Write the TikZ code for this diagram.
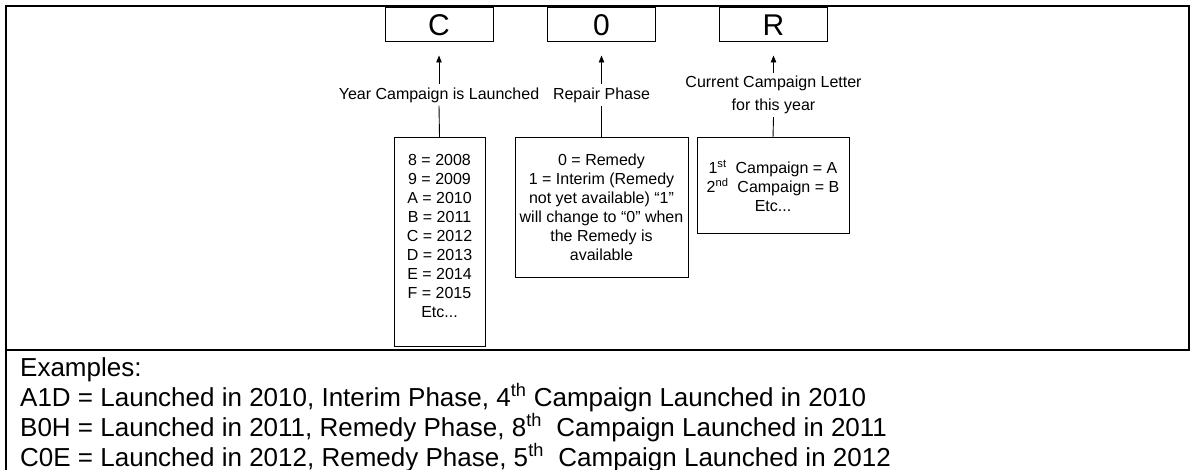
\documentclass[tikz,border=0pt]{standalone}
\usepackage{fontspec}
\setmainfont{Liberation Sans}
\usetikzlibrary{arrows.meta}
\begin{document}
\begin{tikzpicture}[x=1pt,y=-1pt,
  frame/.style={line width=2.5pt,line cap=rect},
  side/.style={line width=2pt},
  letterbox/.style={draw,line width=1pt,minimum width=108pt,minimum height=34pt,inner sep=0pt,font=\fontsize{30}{30}\selectfont},
  lbl/.style={inner sep=3pt,align=center,font=\fontsize{16}{23}\selectfont},
  infobox/.style={draw,line width=1pt,inner sep=0pt,align=center,font=\fontsize{16}{19}\selectfont},
  plain/.style={inner sep=0pt,align=center,font=\fontsize{16}{19}\selectfont},
  conn/.style={line width=0.9pt},
  arr/.style={conn,-{Triangle[length=7pt,width=5.5pt]},shorten >=13pt},
  ex/.style={anchor=base west,inner sep=0pt,font=\fontsize{26}{30}\selectfont}
]
\useasboundingbox (0,0) rectangle (1190,470);
% frame
\coordinate (tl) at (6,6);
\coordinate (tr) at (1190,6);
\coordinate (dl) at (6,350);
\coordinate (dr) at (1190,350);
\coordinate (bl) at (6,470);
\coordinate (rt) at (1189,6);
\coordinate (rb) at (1189,350);
\draw[frame] (tl) -- (tr);
\draw[frame] (dl) -- (dr);
\draw[side] (tl) -- (bl);
\draw[line width=1.5pt] (rt) -- (rb);
% letter boxes
\node[letterbox] (cbox) at (439,25) {C};
\node[letterbox] (zbox) at (601.5,25) {0};
\node[letterbox] (rbox) at (773.5,25) {R};
% labels
\node[lbl] (ylab) at (439,95) {Year Campaign is Launched};
\node[lbl] (plab) at (601.5,95) {Repair Phase};
\node[lbl] (clab) at (773.5,95) {Current Campaign Letter\\for this year};
% info boxes
\node[draw,line width=1pt,minimum width=91pt,minimum height=209pt,inner sep=0pt,anchor=north] (yrs) at (439.5,137) {};
\node[plain,anchor=north] (yrstext) at (439.5,154.5) {8 = 2008\\9 = 2009\\A = 2010\\B = 2011\\C = 2012\\D = 2013\\E = 2014\\F = 2015\\Etc...};
\node[infobox,minimum width=173pt,minimum height=139pt] (rem) at (601.5,207.5) {0 = Remedy\\1 = Interim (Remedy\\not yet available) “1”\\will change to “0” when\\the Remedy is\\available};
\node[infobox,minimum width=152pt,minimum height=96pt] (cmp) at (773,186) {1\textsuperscript{st}\ \ Campaign = A\\2\textsuperscript{nd}\ \ Campaign = B\\Etc...};
% connectors
\draw[arr] (ylab.north) -- (cbox.south);
\draw[arr] (plab.north) -- (zbox.south);
\draw[arr] (clab.north) -- (rbox.south);
\draw[conn] (yrs.north) -- (ylab.south);
\draw[conn] (rem.north) -- (plab.south);
\draw[conn] (cmp.north) -- (clab.south);
% examples
\node[ex] (e0) at (20,376) {Examples:};
\node[ex] (e1) at (20,406) {A1D = Launched in 2010, Interim Phase, 4\textsuperscript{th} Campaign Launched in 2010};
\node[ex] (e2) at (20,436) {B0H = Launched in 2011, Remedy Phase, 8\textsuperscript{th}\ \ Campaign Launched in 2011};
\node[ex] (e3) at (20,466) {C0E = Launched in 2012, Remedy Phase, 5\textsuperscript{th}\ \ Campaign Launched in 2012};
\end{tikzpicture}
\end{document}
